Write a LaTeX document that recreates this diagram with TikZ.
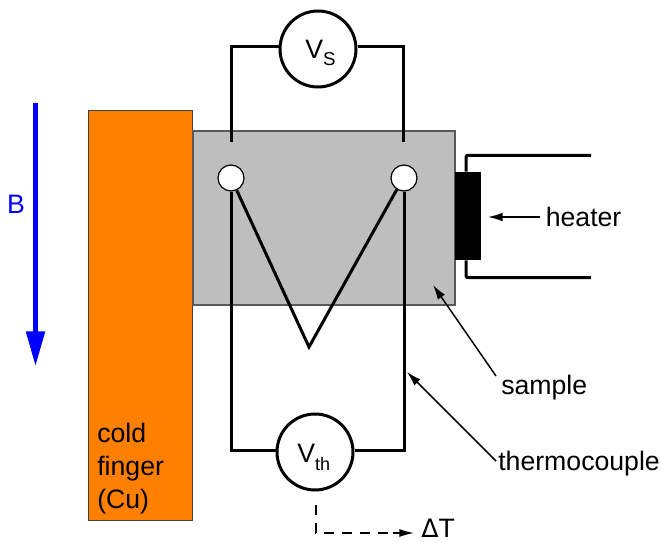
\documentclass[tikz,border=0pt]{standalone}
\usepackage{fontspec}
\setmainfont{Liberation Sans}
\newfontfamily\dejavu{DejaVu Sans}
\usetikzlibrary{arrows.meta}
\definecolor{bblue}{RGB}{0,0,255}
\definecolor{cuorange}{RGB}{255,128,0}
\definecolor{samplegray}{RGB}{190,190,190}
\tikzset{
 x=0.75pt,y=-0.75pt,
 wire/.style={line width=2.25pt,black,line join=miter},
 meter/.style={circle,draw=black,line width=2.25pt,fill=white,minimum size=57pt,inner sep=0pt},
 contact/.style={circle,draw=black,line width=0.9pt,fill=white,minimum size=19.5pt,inner sep=0pt},
 lbl/.style={font=\fontsize{20}{24}\selectfont,inner sep=0pt,text=black},
 ptr/.style={line width=1.1pt,-{Latex[length=11pt,width=6.5pt]}},
}
\begin{document}
\begin{tikzpicture}
\useasboundingbox (0,0) rectangle (661,542);
\node[draw=black!75,line width=0.8pt,fill=cuorange,minimum width=78pt,minimum height=308pt,inner sep=0pt] (finger) at (140.2,315.5) {};
\node[draw=black!65,line width=0.8pt,fill=samplegray,minimum width=196.5pt,minimum height=130.5pt,inner sep=0pt] (sample) at (324,218) {};
\node[fill=black,minimum width=19.5pt,minimum height=66pt,inner sep=0pt] (heat) at (468,216) {};

\node[meter] (vs) at (318,49) {};
\node[meter] (vth) at (315,452) {};
\node[contact] (c1) at (231,178) {};
\node[contact] (c2) at (404,178) {};
\coordinate (t1) at (231,142);
\coordinate (t2) at (403,142);
\coordinate (tip) at (309,347);

\draw[wire] (t1) -- (231,47) -- (vs.west |- 0,47);
\draw[wire] (vs.east |- 0,47) -- (403,47) -- (t2);
\draw[wire] (c1.south) -- (231,450) -- (vth.west |- 0,450);
\draw[wire] (c2.south) -- (404,450) -- (vth.east |- 0,450);
\draw[wire] (c1.-65) -- (tip) -- (c2.-122);

\coordinate (h1) at (591,155.5);
\coordinate (h2) at (591,277.5);
\draw[wire,rounded corners=1pt] (heat.north -| 466,0) -- (466,155.5) -- (h1);
\draw[wire,rounded corners=1pt] (heat.south -| 466,0) -- (466,277.5) -- (h2);

\node[lbl,anchor=base west] (lheat) at (545.5,226) {heater};
\node[lbl,anchor=base west] (lsample) at (501,394) {sample};
\node[lbl,anchor=base west] (lthermo) at (498,470) {thermocouple};
\node[lbl,anchor=base west] (ldt) at (421,537.5) {{\dejavu\fontsize{19}{22}\selectfont Δ}T};
\node[lbl,anchor=base west] (lcold1) at (97,442) {cold};
\node[lbl,anchor=base west] (lcold2) at (97,475) {finger};
\node[lbl,anchor=base west] (lcold3) at (97,508) {(Cu)};
\node[lbl,anchor=base,text=bblue] (lb) at (16,213) {B};
\node[lbl,anchor=base west] (vstext) at (305,59) {V\raisebox{-5.2pt}{\fontsize{14}{16}\selectfont S}};
\node[lbl,anchor=base west] (vthtext) at (297,462) {V\raisebox{-6pt}{\fontsize{13.5}{15}\selectfont th}};

\coordinate (ha) at (540,217);
\coordinate (ht) at (488,217);
\coordinate (sa) at (496,376);
\coordinate (st) at (433,285);
\coordinate (ta) at (496,461);
\coordinate (tt) at (407,372);
\draw[ptr] (ha) -- (ht);
\draw[ptr] (sa) -- (st);
\draw[ptr] (ta) -- (tt);
\coordinate (d0) at (316,505);
\coordinate (d1) at (316,533);
\coordinate (d2) at (400,533);
\coordinate (d3) at (393,533);
\coordinate (d4) at (414,533);
\draw[line width=1.1pt,dash pattern=on 7.5pt off 6pt] (d0) -- (d1) -- (d2);
\draw[line width=1.1pt,-{Latex[length=11pt,width=6pt]}] (d3) -- (d4);

\coordinate (b0) at (35.5,103);
\coordinate (b1) at (35.5,366);
\draw[line width=3.4pt,bblue,-{Triangle[length=26pt,width=13.7pt]}] (b0) -- (b1);
\end{tikzpicture}
\end{document}
